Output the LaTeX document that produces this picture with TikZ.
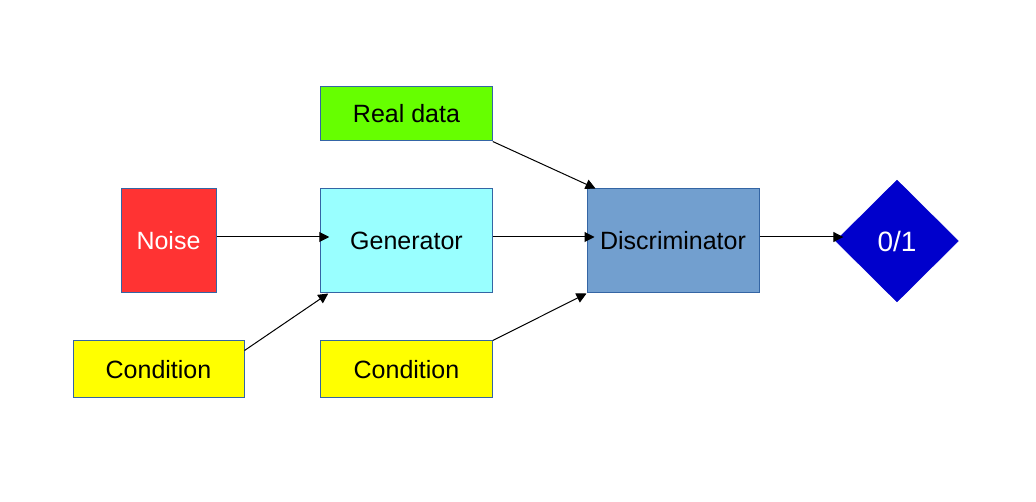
\documentclass[tikz,border=0pt]{standalone}
\usepackage{fontspec}
\setmainfont{Liberation Sans}
\usetikzlibrary{arrows.meta,shapes.geometric,calc}
\definecolor{cgreen}{HTML}{66FF00}
\definecolor{cred}{HTML}{FF3333}
\definecolor{ccyan}{HTML}{99FFFF}
\definecolor{cdisc}{HTML}{729FCF}
\definecolor{cyel}{HTML}{FFFF00}
\definecolor{cdia}{HTML}{0000CC}
\definecolor{cborder}{HTML}{3465A4}
\tikzset{
  box/.style={draw=cborder, line width=1pt, inner sep=0pt, font=\fontsize{25}{30}\selectfont},
  conn/.style={draw=black, line width=1pt, -{Triangle[length=10pt,width=10pt]}},
}
\begin{document}
\begin{tikzpicture}[x=1pt,y=-1pt]
\useasboundingbox (0,0) rectangle (1036,502);
\fill[white] (0,0) rectangle (1036,502);
\node[box, fill=cgreen, minimum width=171.5pt, minimum height=54pt] (real) at (406.5,114) {Real data};
\node[box, fill=cred, text=white, minimum width=95pt, minimum height=104pt] (noise) at (168.5,241) {Noise};
\node[box, fill=ccyan, minimum width=171.5pt, minimum height=104pt] (gen) at (406.5,241) {Generator};
\node[box, fill=cdisc, minimum width=172pt, minimum height=104pt] (disc) at (673,241) {Discriminator};
\node[box, fill=cyel, minimum width=171pt, minimum height=57pt] (cond1) at (158.5,369.5) {Condition};
\node[box, fill=cyel, minimum width=171.5pt, minimum height=57pt] (cond2) at (406.5,369.5) {Condition};
\node[diamond, draw=cdia, fill=cdia, text=white, inner sep=0pt, shape aspect=1, minimum width=123pt, minimum height=122pt, font=\fontsize{28}{32}\selectfont] (dia) at (897,241) {0/1};
\draw[conn] ($(noise.east)+(0,-4)$) -- ($(gen.west)+(9,-4)$);
\draw[conn] ($(gen.east)+(0,-4)$) -- ($(disc.west)+(8,-4)$);
\draw[conn] ($(disc.east)+(0,-4)$) -- ($(dia.west)+(8,-4)$);
\draw[conn] (real.south east) -- ($(disc.north west)+(9,0)$);
\draw[conn] ($(cond1.north east)+(0,10)$) -- ($(gen.south west)+(8,0)$);
\draw[conn] (cond2.north east) -- (disc.south west);
\end{tikzpicture}
\end{document}
